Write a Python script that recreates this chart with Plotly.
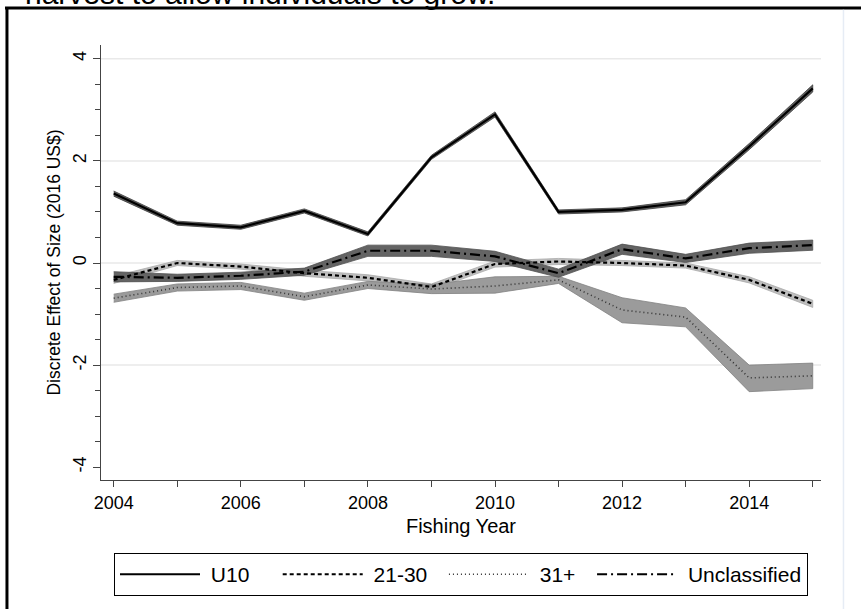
import plotly.graph_objects as go

years = list(range(2004, 2016))

u10 = [1.36, 0.78, 0.70, 1.02, 0.57, 2.07, 2.91, 1.00, 1.04, 1.19, 2.28, 3.42]
u10_lo = [1.31, 0.74, 0.66, 0.98, 0.53, 2.03, 2.86, 0.96, 1.00, 1.14, 2.22, 3.35]
u10_hi = [1.41, 0.82, 0.74, 1.06, 0.61, 2.11, 2.96, 1.04, 1.08, 1.24, 2.34, 3.49]

s2130 = [-0.33, 0.00, -0.07, -0.20, -0.29, -0.47, -0.02, 0.03, 0.00, -0.05, -0.33, -0.80]
s2130_lo = [-0.40, -0.05, -0.12, -0.26, -0.35, -0.53, -0.08, -0.03, -0.05, -0.10, -0.39, -0.87]
s2130_hi = [-0.26, 0.05, -0.02, -0.14, -0.23, -0.41, 0.04, 0.09, 0.05, 0.00, -0.27, -0.73]

s31 = [-0.69, -0.48, -0.45, -0.66, -0.43, -0.51, -0.45, -0.33, -0.92, -1.06, -2.25, -2.21]
s31_lo = [-0.77, -0.55, -0.52, -0.73, -0.50, -0.60, -0.59, -0.40, -1.17, -1.25, -2.52, -2.46]
s31_hi = [-0.61, -0.41, -0.38, -0.59, -0.36, -0.42, -0.27, -0.26, -0.68, -0.88, -2.00, -1.96]

uncl = [-0.27, -0.29, -0.25, -0.17, 0.24, 0.24, 0.13, -0.20, 0.27, 0.09, 0.29, 0.35]
uncl_lo = [-0.37, -0.36, -0.32, -0.24, 0.13, 0.13, 0.03, -0.28, 0.17, 0.01, 0.19, 0.25]
uncl_hi = [-0.17, -0.22, -0.18, -0.10, 0.35, 0.35, 0.23, -0.12, 0.37, 0.17, 0.39, 0.45]

labels = ["U10", "21-30", "31+", "Unclassified"]
grid_vals = [4, 2, 0, -2]
y_ticks = [4, 2, 0, -2, -4]
y_ticktext = ["4", "2", "0", "-2", "-4"]
x_ticks = [2004, 2006, 2008, 2010, 2012, 2014]

FONT = "Liberation Sans, Arial, sans-serif"
NB = "\u00a0"
# legend label padding (spacing only) so entries sit where the reference puts them
pads = [4, 2, 2, 0]
legend_names = [NB + lab + NB * p for lab, p in zip(labels, pads)]

series = [
    (legend_names[0], u10, u10_lo, u10_hi, "rgba(70,70,70,0.85)", "rgba(60,60,60,1)", dict(color="black", width=2.2, dash="solid")),
    (legend_names[1], s2130, s2130_lo, s2130_hi, "rgba(190,190,190,1)", "rgba(170,170,170,1)", dict(color="black", width=2.2, dash="4px,3px")),
    (legend_names[2], s31, s31_lo, s31_hi, "rgba(155,155,155,1)", "rgba(130,130,130,1)", dict(color="#333333", width=1.6, dash="1px,3px")),
    (legend_names[3], uncl, uncl_lo, uncl_hi, "rgba(100,100,100,1)", "rgba(80,80,80,1)", dict(color="black", width=2.2, dash="10px,4px,2px,4px")),
]

fig = go.Figure()

for name, mid, lo, hi, fillc, edgec, ln in series:
    fig.add_trace(go.Scatter(
        x=years + years[::-1], y=hi + lo[::-1],
        mode="lines", fill="toself", fillcolor=fillc,
        line=dict(color=edgec, width=0.8),
        showlegend=False, hoverinfo="skip",
    ))

for name, mid, lo, hi, fillc, edgec, ln in series:
    fig.add_trace(go.Scatter(
        x=years, y=mid, mode="lines", name=name, line=ln,
    ))

shapes = []
for g in grid_vals:
    shapes.append(dict(type="line", xref="paper", yref="y", x0=0, x1=1, y0=g, y1=g,
                       line=dict(color="#e9e9e9", width=1.5), layer="below"))

# page frame (document border around the figure)
shapes.append(dict(type="line", xref="paper", yref="paper", x0=-0.1333, x1=1.06, y0=1.0851, y1=1.0851,
                   line=dict(color="black", width=3)))
shapes.append(dict(type="line", xref="paper", yref="paper", x0=-0.1306, x1=-0.1306, y0=1.0874, y1=-0.32,
                   line=dict(color="black", width=3)))
shapes.append(dict(type="line", xref="paper", yref="paper", x0=1.0312, x1=1.0312, y0=1.081, y1=-0.32,
                   line=dict(color="#e6ecf5", width=1.5)))

fig.update_layout(
    width=861, height=609,
    margin=dict(l=101, r=40, t=45, b=129, autoexpand=False),
    paper_bgcolor="white", plot_bgcolor="white",
    font=dict(family=FONT, size=18, color="black"),
    shapes=shapes,
    showlegend=True,
    legend=dict(
        orientation="h", x=0.5, xanchor="center", y=-0.168, yanchor="top",
        bordercolor="black", borderwidth=1, font=dict(size=21),
        itemwidth=80, bgcolor="white",
    ),
    annotations=[dict(
        text="harvest to allow individuals to grow.", xref="paper", yref="paper",
        x=-0.1083, y=1.119, xanchor="left", yanchor="middle", showarrow=False,
        font=dict(size=30, color="black", family=FONT),
    )],
)

fig.update_xaxes(
    range=[2003.8, 2015.13], tickvals=x_ticks, ticks="outside", ticklen=6, tickwidth=1,
    tickcolor="#444", showline=True, linecolor="#444", linewidth=1, showgrid=False,
    zeroline=False, tickfont=dict(size=18), automargin=False,
    minor=dict(dtick=1, tick0=2004, ticks="outside", ticklen=6, tickcolor="#444", showgrid=False),
    title=dict(text="Fishing Year", font=dict(size=20), standoff=7),
)
fig.update_yaxes(
    range=[-4.25, 4.27], tickvals=y_ticks, ticktext=y_ticktext, ticks="outside", ticklen=7, tickwidth=1,
    tickcolor="#444", showline=True, linecolor="#444", linewidth=1, showgrid=False,
    zeroline=False, tickangle=-90, tickfont=dict(size=18), automargin=False,
    minor=dict(dtick=0.5, tick0=0, ticks="outside", ticklen=5, tickcolor="#444", showgrid=False),
    title=dict(text="Discrete Effect of Size (2016 US$)", font=dict(size=17.5), standoff=4),
)

fig.write_html("out.html", config={"displayModeBar": False},
               post_script="document.body.style.margin='0px';")
